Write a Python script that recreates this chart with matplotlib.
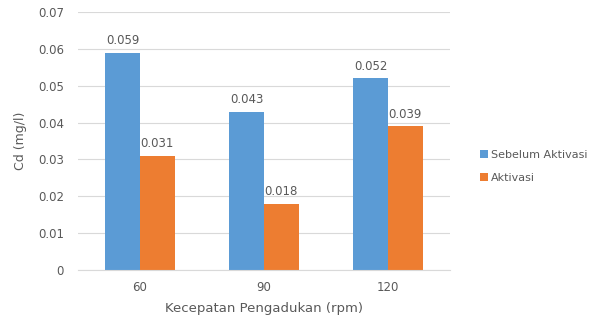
import matplotlib.pyplot as plt
import numpy as np

categories = ['60', '90', '120']
sebelum = [0.059, 0.043, 0.052]
aktivasi = [0.031, 0.018, 0.039]
series_names = ['Sebelum Aktivasi', 'Aktivasi']

blue = '#5B9BD5'
orange = '#ED7D31'
grey = '#595959'

fig = plt.figure(figsize=(5.95, 3.26), dpi=100)
ax = fig.add_axes([0.131, 0.172, 0.625, 0.791])

x = np.arange(len(categories))
w = 0.28
b1 = ax.bar(x - w / 2, sebelum, w, color=blue, label=series_names[0])
b2 = ax.bar(x + w / 2, aktivasi, w, color=orange, label=series_names[1])

for bars, vals in ((b1, sebelum), (b2, aktivasi)):
    for rect, v in zip(bars, vals):
        ax.text(rect.get_x() + rect.get_width() / 2, v + 0.0015, '%g' % v,
                ha='center', va='bottom', fontsize=8.5, color=grey)

ax.set_xlim(-0.5, 2.5)
ax.set_ylim(0, 0.07)
ax.set_yticks(np.arange(0, 0.071, 0.01))
ax.set_yticklabels(['0'] + ['%.2f' % v for v in np.arange(0.01, 0.071, 0.01)])
ax.set_xticks(x)
ax.set_xticklabels(categories)
ax.tick_params(axis='both', length=0, labelsize=8.5, colors=grey)
ax.tick_params(axis='x', pad=8)
ax.tick_params(axis='y', pad=10)
ax.yaxis.grid(True, color='#D9D9D9', linewidth=0.8)
ax.set_axisbelow(True)
for s in ['top', 'right', 'left']:
    ax.spines[s].set_visible(False)
ax.spines['bottom'].set_color('#D9D9D9')

ax.set_xlabel('Kecepatan Pengadukan (rpm)', fontsize=9.5, color=grey, labelpad=6)
ax.set_ylabel('Cd (mg/l)', fontsize=9, color=grey, labelpad=8)

fig.legend(handles=[b1, b2], loc='center left', bbox_to_anchor=(0.79, 0.49),
           frameon=False, fontsize=8, handlelength=0.7, handleheight=0.7,
           handletextpad=0.3, labelspacing=1.2, labelcolor=grey)

fig.savefig('out.png', dpi=100)
